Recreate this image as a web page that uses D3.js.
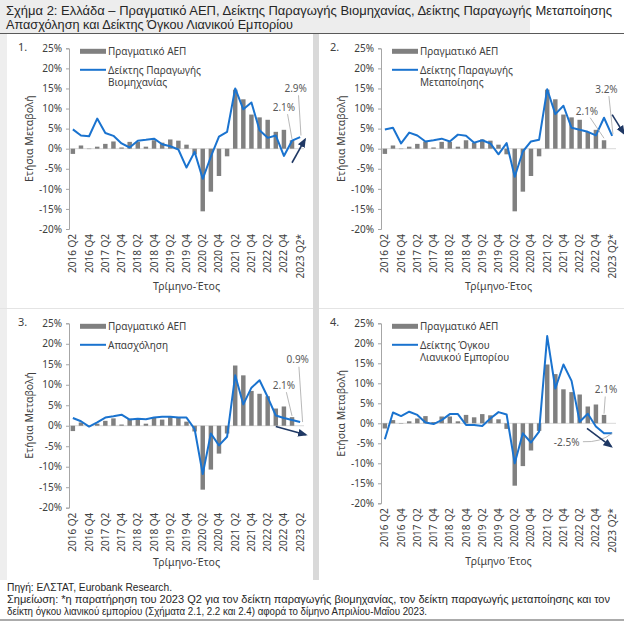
<!DOCTYPE html>
<html lang="el">
<head>
<meta charset="utf-8">
<title>Σχήμα 2</title>
<script src="https://d3js.org/d3.v7.min.js"></script>
<style>
  body { margin: 0; background: #fff; }
  svg text { font-family: "Noto Sans", "Open Sans", sans-serif; fill: #404040; }
  svg text.head { font-family: "Liberation Sans", Arial, sans-serif; }
</style>
</head>
<body>
<div id="chart"></div>
<script>
// quarters on the x axis
var quarters = ["2016 Q2","2016 Q3","2016 Q4","2017 Q1","2017 Q2","2017 Q3","2017 Q4",
  "2018 Q1","2018 Q2","2018 Q3","2018 Q4","2019 Q1","2019 Q2","2019 Q3","2019 Q4",
  "2020 Q1","2020 Q2","2020 Q3","2020 Q4","2021 Q1","2021 Q2","2021 Q3","2021 Q4",
  "2022 Q1","2022 Q2","2022 Q3","2022 Q4","2023 Q1","2023 Q2"];

// real GDP, y/y % (no 2023 Q2 bar)
var gdp = [-1.3, 0.8, -0.1, 0.5, 1.2, 1.8, 0.3, 1.7, 1.7, 0.5, 2.1, 1.5, 2.3, 2.0, 1.0,
  -1.4, -15.6, -10.7, -6.8, -1.9, 14.7, 12.3, 8.5, 7.8, 7.2, 4.2, 4.7, 2.1, null];

var industry = [4.8, 3.3, 3.1, 7.5, 3.9, 3.2, 1.3, 0.3, 2.0, 2.2, 2.5, 1.1, 0.6, -0.2, -4.7,
  -0.8, -7.5, -2.0, 3.0, 4.2, 15.0, 9.8, 11.5, 4.6, 2.7, 3.3, -1.8, 2.0, 2.9];

var manufacturing = [4.8, 5.2, 1.3, 4.0, 3.3, 1.8, 2.1, 2.5, 1.8, 3.5, 3.2, 1.5, 2.1, 1.3, -1.4,
  1.4, -7.0, -0.7, 1.8, 2.2, 14.8, 8.6, 10.7, 5.2, 4.7, 4.2, 3.3, 7.7, 3.2];

var employment = [1.9, 1.1, -0.2, 0.8, 2.0, 2.3, 2.7, 1.5, 1.7, 1.6, 2.0, 2.2, 2.2, 2.0, 2.0,
  -0.8, -11.8, -1.9, -4.8, -2.7, 12.3, 5.2, 9.3, 11.1, 7.0, 2.5, 1.9, 1.4, 0.9];

var retail = [-4.0, 2.7, 1.8, 2.9, 2.1, 0.2, -0.2, 0.8, 2.3, 2.3, -0.4, -0.4, -0.7, 1.2, 2.8,
  2.2, -10.0, -2.5, -4.8, -2.1, 21.8, 8.7, 14.7, 10.6, 0.4, 2.4, -0.8, -2.5, -2.5];

var yTicks = [25, 20, 15, 10, 5, 0, -5, -10, -15, -20];

var titleLines = [
  "Σχήμα 2: Ελλάδα – Πραγματικό ΑΕΠ, Δείκτης Παραγωγής Βιομηχανίας, Δείκτης Παραγωγής Μεταποίησης",
  "Απασχόληση και Δείκτης Όγκου Λιανικού Εμπορίου"];
var footLines = [
  "Πηγή: ΕΛΣΤΑΤ, Eurobank Research.",
  "Σημείωση: *η παρατήρηση του 2023 Q2 για τον δείκτη παραγωγής βιομηχανίας, τον δείκτη παραγωγής μεταποίησης και τον",
  "δείκτη όγκου λιανικού εμπορίου (Σχήματα 2.1, 2.2 και 2.4) αφορά το δίμηνο Απριλίου-Μαΐου 2023."];

var W = 624, H = 623;
var blue = "#1a73cf", grey = "#808080", navy = "#1f3864";

var svg = d3.select("#chart").append("svg")
  .attr("width", W).attr("height", H);

// background pieces
svg.append("rect").attr("x", 0).attr("y", 0).attr("width", 530).attr("height", 33).attr("fill", "#ededed");
svg.append("rect").attr("x", 0).attr("y", 34).attr("width", 7).attr("height", 546).attr("fill", "#eeeeee");
svg.append("rect").attr("x", 313).attr("y", 34).attr("width", 6).attr("height", 546).attr("fill", "#d9d9d9");
svg.append("line").attr("x1", 0).attr("x2", 313).attr("y1", 308.5).attr("y2", 308.5).attr("stroke", "#e4e4e4");
svg.append("line").attr("x1", 319).attr("x2", W).attr("y1", 308.5).attr("y2", 308.5).attr("stroke", "#e4e4e4");
svg.append("line").attr("x1", 0).attr("x2", W).attr("y1", 33.5).attr("y2", 33.5).attr("stroke", "#595959").attr("stroke-width", 1.2);
svg.append("line").attr("x1", 0).attr("x2", W).attr("y1", 620).attr("y2", 620).attr("stroke", "#595959").attr("stroke-width", 1.2);

svg.selectAll(".title").data(titleLines).enter().append("text")
  .attr("class", "head")
  .attr("x", 6).attr("y", function(d, i) { return 15 + i * 14; })
  .attr("font-size", 12.3).style("fill", "#262626")
  .attr("textLength", function(d, i) { return i == 0 ? 606 : 287; })
  .attr("lengthAdjust", "spacingAndGlyphs")
  .text(function(d) { return d; });

svg.selectAll(".foot").data(footLines).enter().append("text")
  .attr("class", "head")
  .attr("x", 7).attr("y", function(d, i) { return 591 + i * 11.8; })
  .attr("font-size", 10).style("fill", "#262626")
  .attr("textLength", function(d, i) { return [165, 603, 420][i]; })
  .attr("lengthAdjust", "spacingAndGlyphs")
  .text(function(d) { return d; });

var defs = svg.append("defs");
defs.append("marker").attr("id", "head")
  .attr("viewBox", "0 0 10 10").attr("refX", 8).attr("refY", 5)
  .attr("markerWidth", 6).attr("markerHeight", 6).attr("orient", "auto")
  .append("path").attr("d", "M0,1 L10,5 L0,9 Z").attr("fill", navy);

var panels = [
  { num: "1.", series: industry, legend: ["Δείκτης Παραγωγής", "Βιομηχανίας"],
    left: 69, right: 304, top: 48.3, bottom: 229, last: "2023 Q2*", xTitle: "Τρίμηνο-Έτος", xTitleY: 290,
    labels: [{ t: "2.9%", at: [27.45, 14.2], from: [27.8, 13.3], to: [28.1, 3.3] },
             { t: "2.1%", at: [26.0, 9.5], from: [26.45, 8.6], to: [27.0, 2.4] }],
    arrow: [[27.0, -3.5], [28.6, 2.3]] },
  { num: "2.", series: manufacturing, legend: ["Δείκτης Παραγωγής", "Μεταποίησης"],
    left: 381, right: 616, top: 48.3, bottom: 229, last: "2023 Q2*", xTitle: "Τρίμηνο-Έτος", xTitleY: 290,
    labels: [{ t: "3.2%", at: [27.3, 13.95], from: [27.6, 13.1], to: [28.1, 3.6] },
             { t: "2.1%", at: [24.9, 8.45], from: [25.3, 7.7], to: [27.0, 2.6] }],
    arrow: [[28.0, 8.5], [29.45, 3.75]] },
  { num: "3.", series: employment, legend: ["Απασχόληση"],
    left: 69, right: 304, top: 323.3, bottom: 507.7, last: "2023 Q2", xTitle: "Τρίμηνο-Έτος", xTitleY: 566,
    labels: [{ t: "0.9%", at: [27.7, 15.3], from: [27.85, 14.4], to: [28.3, 0.9] },
             { t: "2.1%", at: [26.0, 9.0], from: [26.3, 8.2], to: [27.0, 2.4] }],
    arrow: [[25.0, -0.2], [28.7, -2.2]] },
  { num: "4.", series: retail, legend: ["Δείκτης Όγκου", "Λιανικού Εμπορίου"],
    left: 381, right: 616, top: 323.3, bottom: 503.3, last: "2023 Q2*", xTitle: "Τρίμηνο Έτος", xTitleY: 565,
    labels: [{ t: "2.1%", at: [27.25, 7.7], from: [27.15, 6.7], to: [27.0, 2.4] }],
    curve: { t: "-2.5%", at: [22.4, -5.7], from: [24.4, -4.6], to: [28.0, -2.5] },
    arrow: [[24.9, -1.25], [27.9, -5.85]] }
];

panels.forEach(function(p) {
  var g = svg.append("g");
  var x = d3.scaleBand().domain(quarters).range([p.left, p.right]).paddingInner(0.45).paddingOuter(0.2);
  var y = d3.scaleLinear().domain([-20, 25]).range([p.bottom, p.top]);
  var cx = function(i) { return x(quarters[0]) + x.bandwidth() / 2 + i * x.step(); };

  // zero line
  g.append("line").attr("x1", p.left).attr("x2", p.right)
    .attr("y1", y(0)).attr("y2", y(0)).attr("stroke", "#d9d9d9");

  // y axis
  var ya = g.append("g").attr("transform", "translate(" + p.left + ",0)")
    .call(d3.axisLeft(y).tickValues(yTicks).tickSize(3).tickPadding(4)
      .tickFormat(function(d) { return d + "%"; }));
  ya.selectAll("path, line").attr("stroke", "#a6a6a6");
  ya.selectAll("text").attr("font-size", 10).style("font-family", "'Noto Sans', sans-serif").style("fill", "#404040");

  // bars
  g.selectAll(".bar").data(gdp.map(function(v, i) { return { q: quarters[i], v: v }; })
      .filter(function(d) { return d.v != null; }))
    .enter().append("rect")
    .attr("x", function(d) { return x(d.q); })
    .attr("width", x.bandwidth())
    .attr("y", function(d) { return y(Math.max(0, d.v)); })
    .attr("height", function(d) { return Math.abs(y(d.v) - y(0)); })
    .attr("fill", grey);

  // line
  var line = d3.line().x(function(d, i) { return x(quarters[i]) + x.bandwidth() / 2; })
    .y(function(d) { return y(d); });
  g.append("path").datum(p.series).attr("d", line)
    .attr("fill", "none").attr("stroke", blue).attr("stroke-width", 2).attr("stroke-linejoin", "round");

  // x tick labels
  var xl = quarters.filter(function(q, i) { return i % 2 == 0; });
  g.selectAll(".xl").data(xl).enter().append("text")
    .attr("transform", function(d) {
      return "translate(" + (x(d) + x.bandwidth() / 2 + 3.5) + "," + (p.bottom + 5) + ") rotate(-90)";
    })
    .attr("text-anchor", "end").attr("font-size", 10)
    .text(function(d, i) { return i == xl.length - 1 ? p.last : d; });

  // axis titles
  g.append("text").attr("x", (p.left + p.right) / 2).attr("y", p.xTitleY)
    .attr("text-anchor", "middle").attr("font-size", 10.5).text(p.xTitle);
  g.append("text")
    .attr("transform", "translate(" + (p.left - 36) + "," + ((p.top + p.bottom) / 2) + ") rotate(-90)")
    .attr("text-anchor", "middle").attr("font-size", 10.5).text("Ετήσια Μεταβολή");

  // panel number
  g.append("text").attr("x", p.left - 51).attr("y", p.top + 3).attr("font-size", 11).text(p.num);

  // legend
  var lx = p.left + 11;
  g.append("rect").attr("x", lx).attr("y", p.top + 0.5).attr("width", 26).attr("height", 5).attr("fill", grey);
  g.append("text").attr("x", lx + 28).attr("y", p.top + 6.5).attr("font-size", 10).text("Πραγματικό ΑΕΠ");
  g.append("line").attr("x1", lx).attr("x2", lx + 26).attr("y1", p.top + 21.5).attr("y2", p.top + 21.5)
    .attr("stroke", blue).attr("stroke-width", 2);
  p.legend.forEach(function(t, i) {
    g.append("text").attr("x", lx + 28).attr("y", p.top + 25.5 + i * 12.5).attr("font-size", 10).text(t);
  });

  // value labels with leader lines
  (p.labels || []).forEach(function(l) {
    g.append("line").attr("x1", cx(l.from[0])).attr("y1", y(l.from[1]))
      .attr("x2", cx(l.to[0])).attr("y2", y(l.to[1])).attr("stroke", "#a6a6a6").attr("stroke-width", 0.8);
    g.append("text").attr("x", cx(l.at[0])).attr("y", y(l.at[1]))
      .attr("text-anchor", "middle").attr("font-size", 10).style("fill", "#595959").text(l.t);
  });
  if (p.curve) {
    var c = p.curve;
    var x1 = cx(c.from[0]), y1 = y(c.from[1]), x2 = cx(c.to[0]), y2 = y(c.to[1]);
    g.append("path").attr("d", "M" + x1 + "," + y1 + " Q" + (x1 + (x2 - x1) * 0.6) + "," + (y1 + 1) + " " + x2 + "," + y2)
      .attr("fill", "none").attr("stroke", "#a6a6a6").attr("stroke-width", 0.8);
    g.append("text").attr("x", cx(c.at[0])).attr("y", y(c.at[1]))
      .attr("text-anchor", "middle").attr("font-size", 10).style("fill", "#595959").text(c.t);
  }

  // trend arrow
  g.append("line").attr("x1", cx(p.arrow[0][0])).attr("y1", y(p.arrow[0][1]))
    .attr("x2", cx(p.arrow[1][0])).attr("y2", y(p.arrow[1][1]))
    .attr("stroke", navy).attr("stroke-width", 1.6).attr("marker-end", "url(#head)");
});
</script>
</body>
</html>
